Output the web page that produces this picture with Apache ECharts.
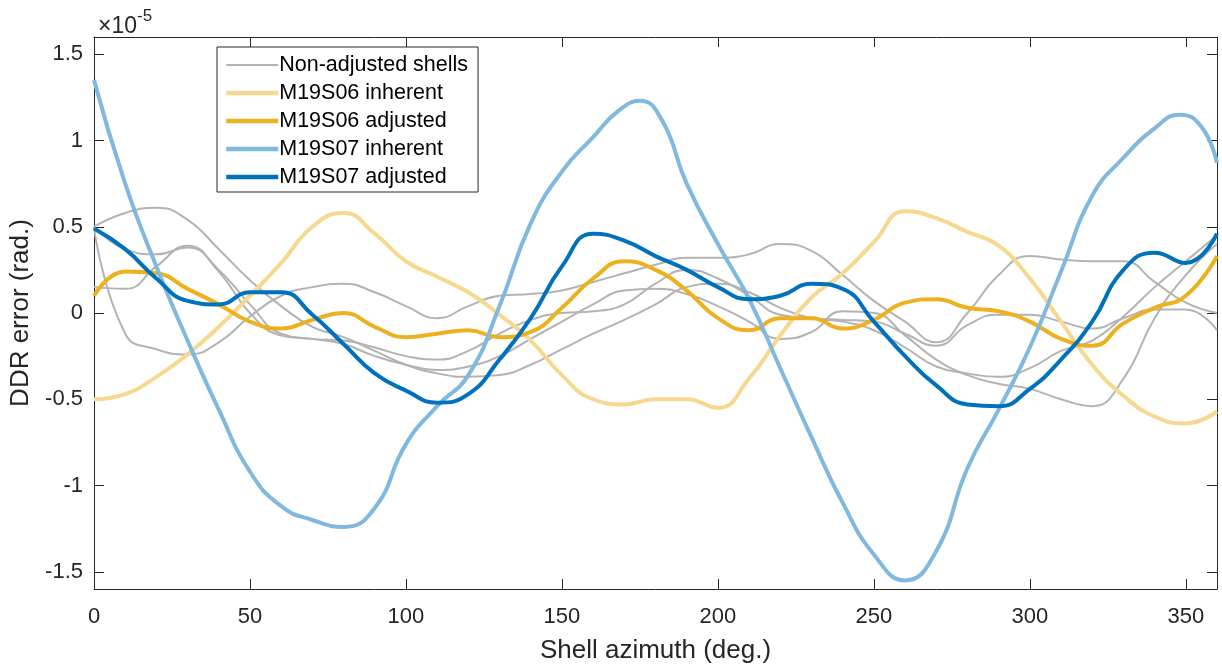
<!DOCTYPE html>
<html>
<head>
<meta charset="utf-8">
<title>DDR error</title>
<script src="https://cdn.jsdelivr.net/npm/echarts@6/dist/echarts.min.js"></script>
<style>
  html, body { margin: 0; padding: 0; background: #fff; }
  #chart { width: 1222px; height: 664px; }
</style>
</head>
<body>
<div id="chart"></div>
<script>
// azimuth samples (deg.)
const azimuth = [0, 10, 20, 30, 40, 50, 60, 70, 80, 90, 100, 110, 120, 130, 140, 150, 160, 170, 180,
  190, 200, 210, 220, 230, 240, 250, 260, 270, 280, 290, 300, 310, 320, 330, 340, 350, 360];
// M19S07 inherent is read a little finer round its sharp peak
const azimuthS07 = [0, 10, 20, 30, 40, 50, 60, 70, 80, 90, 100, 110, 120, 130, 140, 150, 160, 168, 175, 182,
  190, 200, 210, 220, 230, 240, 250, 260, 270, 280, 290, 300, 310, 320, 330, 340, 348, 355, 360];

// DDR error, in units of 1e-5 rad.
const shellA = [0.5, 0.58, 0.61, 0.54, 0.37, 0.19, 0.04, -0.08, -0.14, -0.22, -0.3, -0.35, -0.37, -0.36, -0.3, -0.21, -0.12, -0.04, 0.05,
  0.15, 0.17, 0.12, 0.03, -0.03, -0.05, -0.1, -0.2, -0.31, -0.35, -0.37, -0.32, -0.22, -0.16, -0.02, 0.15, 0.3, 0.45];
const shellB = [0.5, 0.37, 0.34, 0.38, 0.25, 0.05, -0.12, -0.15, -0.16, -0.2, -0.25, -0.27, -0.22, -0.12, -0.04, 0, 0.01, 0.05, 0.17,
  0.25, 0.2, 0.1, -0.01, -0.03, -0.04, -0.05, -0.12, -0.19, -0.07, -0.01, -0.01, -0.05, -0.09, -0.03, 0.02, 0.02, -0.1];
const shellC = [0.15, 0.14, 0.27, 0.39, 0.24, 0, -0.13, -0.15, -0.18, -0.25, -0.3, -0.33, -0.31, -0.25, -0.15, -0.05, 0.05, 0.13, 0.14,
  0.11, 0.04, -0.05, -0.15, -0.11, 0.01, 0, -0.13, -0.27, -0.36, -0.41, -0.44, -0.5, -0.54, -0.38, -0.03, 0.22, 0.4];
const shellD = [0.5, -0.12, -0.21, -0.24, -0.17, -0.02, 0.1, 0.15, 0.17, 0.12, 0.04, -0.03, 0.04, 0.1, 0.11, 0.13, 0.18, 0.23, 0.28,
  0.32, 0.32, 0.34, 0.4, 0.36, 0.22, 0.07, -0.05, -0.17, 0, 0.22, 0.33, 0.31, 0.3, 0.3, 0.18, 0.06, 0];

const s06Inherent = [-0.5, -0.47, -0.37, -0.24, -0.08, 0.1, 0.29, 0.5, 0.58, 0.46, 0.3, 0.21, 0.12, -0.01, -0.16, -0.36, -0.5, -0.53, -0.5,
  -0.5, -0.55, -0.38, -0.13, 0.09, 0.23, 0.41, 0.59, 0.55, 0.47, 0.39, 0.2, -0.05, -0.3, -0.48, -0.6, -0.64, -0.57];
const s06Adjusted = [0.1, 0.24, 0.23, 0.14, 0.05, -0.05, -0.09, -0.04, 0, -0.08, -0.14, -0.12, -0.1, -0.14, -0.11, 0.03, 0.2, 0.3, 0.25,
  0.13, -0.03, -0.1, -0.03, -0.03, -0.09, -0.04, 0.06, 0.08, 0.03, 0.01, -0.05, -0.15, -0.19, -0.06, 0.03, 0.1, 0.33];
const s07Inherent = [1.35, 0.75, 0.27, -0.16, -0.56, -0.92, -1.12, -1.2, -1.24, -1.13, -0.76, -0.54, -0.36, 0.04, 0.52, 0.82, 1.02, 1.17, 1.23, 1.12,
  0.75, 0.4, 0.08, -0.32, -0.72, -1.1, -1.4, -1.55, -1.38, -0.9, -0.56, -0.2, 0.24, 0.68, 0.9, 1.07, 1.15, 1.08, 0.87];
const s07Adjusted = [0.49, 0.37, 0.2, 0.07, 0.05, 0.12, 0.12, -0.01, -0.18, -0.35, -0.45, -0.52, -0.47, -0.27, -0.03, 0.27, 0.46, 0.42, 0.33,
  0.25, 0.15, 0.08, 0.1, 0.17, 0.14, -0.05, -0.25, -0.42, -0.53, -0.54, -0.44, -0.27, -0.05, 0.25, 0.35, 0.29, 0.46];

const yTicks = [-1.5, -1, -0.5, 0, 0.5, 1, 1.5];

const FONT = "'Liberation Sans', Arial, Helvetica, sans-serif";
const AXIS_COLOR = "#262626";
const GRAY = "#b3b3b3";

function pairs(xs, vals) {
  return xs.map((a, i) => [a, vals[i]]);
}

function lineSeries(name, xs, vals, color, width) {
  return {
    name: name,
    type: "line",
    data: pairs(xs, vals),
    smooth: 0.5,
    symbol: "none",
    lineStyle: { color: color, width: width },
    itemStyle: { color: color },
    emphasis: { disabled: true },
    animation: false
  };
}

const chart = echarts.init(document.getElementById("chart"));

const xBase = {
  type: "value",
  min: 0,
  max: 360,
  interval: 50,
  splitLine: { show: false },
  axisLine: { show: true, onZero: false, lineStyle: { color: AXIS_COLOR, width: 1 } },
  axisTick: { show: true, inside: true, length: 10, lineStyle: { color: AXIS_COLOR } }
};
const yBase = {
  type: "value",
  min: -1.6,
  max: 1.6,
  splitLine: { show: false },
  axisLine: { show: true, onZero: false, lineStyle: { color: AXIS_COLOR, width: 1 } },
  axisTick: { show: true, inside: true, length: 10, customValues: yTicks, lineStyle: { color: AXIS_COLOR } }
};

const option = {
  backgroundColor: "#fff",
  animation: false,
  title: {
    left: 93,
    top: 3,
    text: "{a|×10}{b|-5}",
    textStyle: {
      rich: {
        a: { fontFamily: FONT, fontSize: 23, fontWeight: "normal", color: AXIS_COLOR, verticalAlign: "bottom", lineHeight: 30 },
        b: { fontFamily: FONT, fontSize: 17, fontWeight: "normal", color: AXIS_COLOR, verticalAlign: "top", lineHeight: 30 }
      }
    }
  },
  grid: { left: 94, right: 5, top: 37, bottom: 75, containLabel: false, outerBoundsMode: "none" },
  legend: {
    orient: "vertical",
    left: 217,
    top: 47,
    padding: [6, 10, 3, 7],
    itemGap: 4,
    itemWidth: 52,
    itemHeight: 14,
    backgroundColor: "#fff",
    borderColor: AXIS_COLOR,
    borderWidth: 1,
    borderRadius: 0,
    itemStyle: { opacity: 0 },
    textStyle: { fontFamily: FONT, fontSize: 21.5, color: "#000", lineHeight: 24, padding: [0, 0, 0, -4] },
    data: [
      { name: "Non-adjusted shells", lineStyle: { width: 2, color: GRAY } },
      { name: "M19S06 inherent", lineStyle: { width: 4.5, color: "#f6d88f" } },
      { name: "M19S06 adjusted", lineStyle: { width: 4.5, color: "#edb120" } },
      { name: "M19S07 inherent", lineStyle: { width: 4.5, color: "#80b8de" } },
      { name: "M19S07 adjusted", lineStyle: { width: 4.5, color: "#0072bd" } }
    ]
  },
  xAxis: [
    Object.assign({}, xBase, {
      position: "bottom",
      name: "Shell azimuth (deg.)",
      nameLocation: "middle",
      nameGap: 49,
      nameTextStyle: { fontFamily: FONT, fontSize: 26, color: AXIS_COLOR },
      axisLabel: { show: true, margin: 17, fontFamily: FONT, fontSize: 22, color: AXIS_COLOR }
    }),
    Object.assign({}, xBase, { position: "top", axisLabel: { show: false } })
  ],
  yAxis: [
    Object.assign({}, yBase, {
      position: "left",
      name: "DDR error (rad.)",
      nameLocation: "middle",
      nameGap: 56,
      nameTextStyle: { fontFamily: FONT, fontSize: 26, color: AXIS_COLOR },
      axisLabel: { show: true, margin: 11, customValues: yTicks, fontFamily: FONT, fontSize: 22, color: AXIS_COLOR }
    }),
    Object.assign({}, yBase, { position: "right", axisLabel: { show: false } })
  ],
  series: [
    lineSeries("Non-adjusted shells", azimuth, shellA, GRAY, 2),
    lineSeries("Non-adjusted shells", azimuth, shellB, GRAY, 2),
    lineSeries("Non-adjusted shells", azimuth, shellC, GRAY, 2),
    lineSeries("Non-adjusted shells", azimuth, shellD, GRAY, 2),
    lineSeries("M19S06 inherent", azimuth, s06Inherent, "#f6d88f", 4),
    lineSeries("M19S06 adjusted", azimuth, s06Adjusted, "#edb120", 4),
    lineSeries("M19S07 inherent", azimuthS07, s07Inherent, "#80b8de", 4),
    lineSeries("M19S07 adjusted", azimuth, s07Adjusted, "#0072bd", 4)
  ]
};

chart.setOption(option);
</script>
</body>
</html>
